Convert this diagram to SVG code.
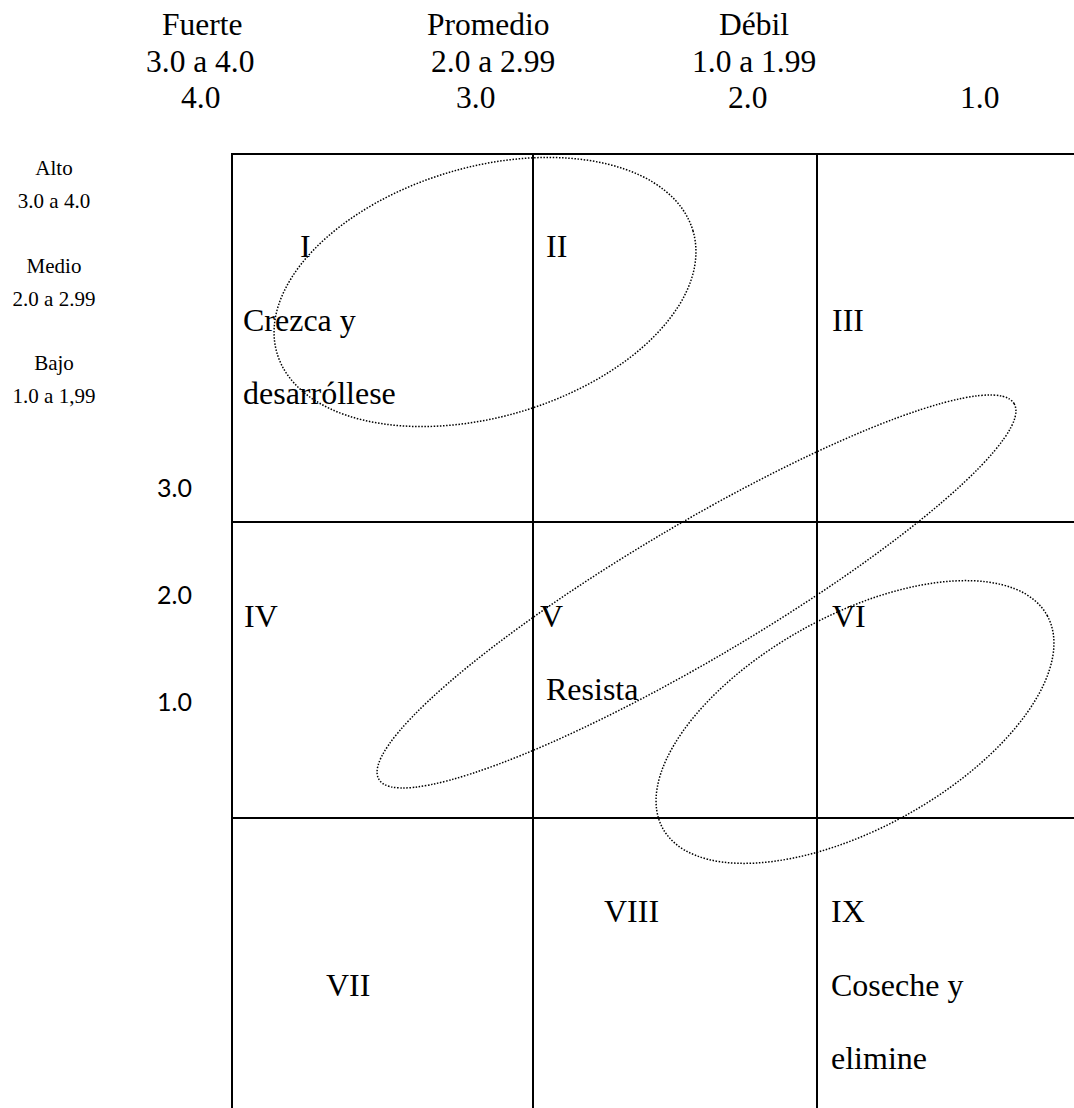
<svg xmlns="http://www.w3.org/2000/svg" width="1074" height="1108" viewBox="0 0 1074 1108">
  <style>
    .hdr { font-family: "Liberation Serif", "Times New Roman", serif; font-size: 31.5px; fill: #000; }
    .side { font-family: "Liberation Serif", "Times New Roman", serif; font-size: 21px; fill: #000; text-anchor: middle; }
    .num { font-family: Lato, "Open Sans", sans-serif; font-size: 25px; fill: #000; }
    .cell { font-family: "Liberation Serif", "Times New Roman", serif; font-size: 32px; fill: #000; }
    .grid { stroke: #000; stroke-width: 2; fill: none; }
    .zone { stroke: #000; stroke-width: 1.5; stroke-dasharray: 1.5 1.6; fill: none; }
  </style>

  <rect width="1074" height="1108" fill="#fff"/>

  <!-- column headings: competitive position -->
  <g id="col-headings">
    <text class="hdr" x="162" y="35">Fuerte</text>
    <text class="hdr" x="146" y="72">3.0 a 4.0</text>
    <text class="hdr" x="181" y="108">4.0</text>
    <text class="hdr" x="427" y="35">Promedio</text>
    <text class="hdr" x="431" y="72">2.0 a 2.99</text>
    <text class="hdr" x="456" y="108">3.0</text>
    <text class="hdr" x="719" y="35">Débil</text>
    <text class="hdr" x="692" y="72">1.0 a 1.99</text>
    <text class="hdr" x="728" y="108">2.0</text>
    <text class="hdr" x="960" y="108">1.0</text>
  </g>

  <!-- row headings: attractiveness -->
  <g id="row-headings">
    <text class="side" x="54" y="175">Alto</text>
    <text class="side" x="54" y="208">3.0 a 4.0</text>
    <text class="side" x="54" y="273">Medio</text>
    <text class="side" x="54" y="306">2.0 a 2.99</text>
    <text class="side" x="54" y="370">Bajo</text>
    <text class="side" x="54" y="403">1.0 a 1,99</text>
    <text class="num" x="157" y="497">3.0</text>
    <text class="num" x="157" y="604">2.0</text>
    <text class="num" x="157" y="711">1.0</text>
  </g>

  <!-- 3x3 grid -->
  <g id="grid" class="grid">
    <line x1="232" y1="154" x2="1074" y2="154"/>
    <line x1="232" y1="522" x2="1074" y2="522"/>
    <line x1="232" y1="818" x2="1074" y2="818"/>
    <line x1="232" y1="153" x2="232" y2="1108"/>
    <line x1="533" y1="153" x2="533" y2="1108"/>
    <line x1="817" y1="153" x2="817" y2="1108"/>
  </g>

  <!-- cells -->
  <g id="cell-I"><text class="cell" x="300" y="257">I</text>
    <text class="cell" x="243" y="331">Crezca y</text>
    <text class="cell" x="243" y="404">desarróllese</text></g>
  <g id="cell-II"><text class="cell" x="546" y="257">II</text></g>
  <g id="cell-III"><text class="cell" x="832" y="331">III</text></g>
  <g id="cell-IV"><text class="cell" x="244" y="627">IV</text></g>
  <g id="cell-V"><text class="cell" x="540" y="627">V</text>
    <text class="cell" x="546" y="700">Resista</text></g>
  <g id="cell-VI"><text class="cell" x="832" y="627">VI</text></g>
  <g id="cell-VII"><text class="cell" x="326" y="996">VII</text></g>
  <g id="cell-VIII"><text class="cell" x="604" y="922">VIII</text></g>
  <g id="cell-IX"><text class="cell" x="831" y="922">IX</text>
    <text class="cell" x="831" y="996">Coseche y</text>
    <text class="cell" x="831" y="1069">elimine</text></g>

  <!-- dotted strategy zones -->
  <g id="zones" class="zone">
    <ellipse cx="485" cy="292" rx="216.8" ry="124.9" transform="rotate(-16.4 485 292)"/>
    <ellipse cx="696.5" cy="591.5" rx="369" ry="67" transform="rotate(-30.6 696.5 591.5)"/>
    <ellipse cx="855" cy="722" rx="219.7" ry="106.3" transform="rotate(-29 855 722)"/>
  </g>
</svg>
